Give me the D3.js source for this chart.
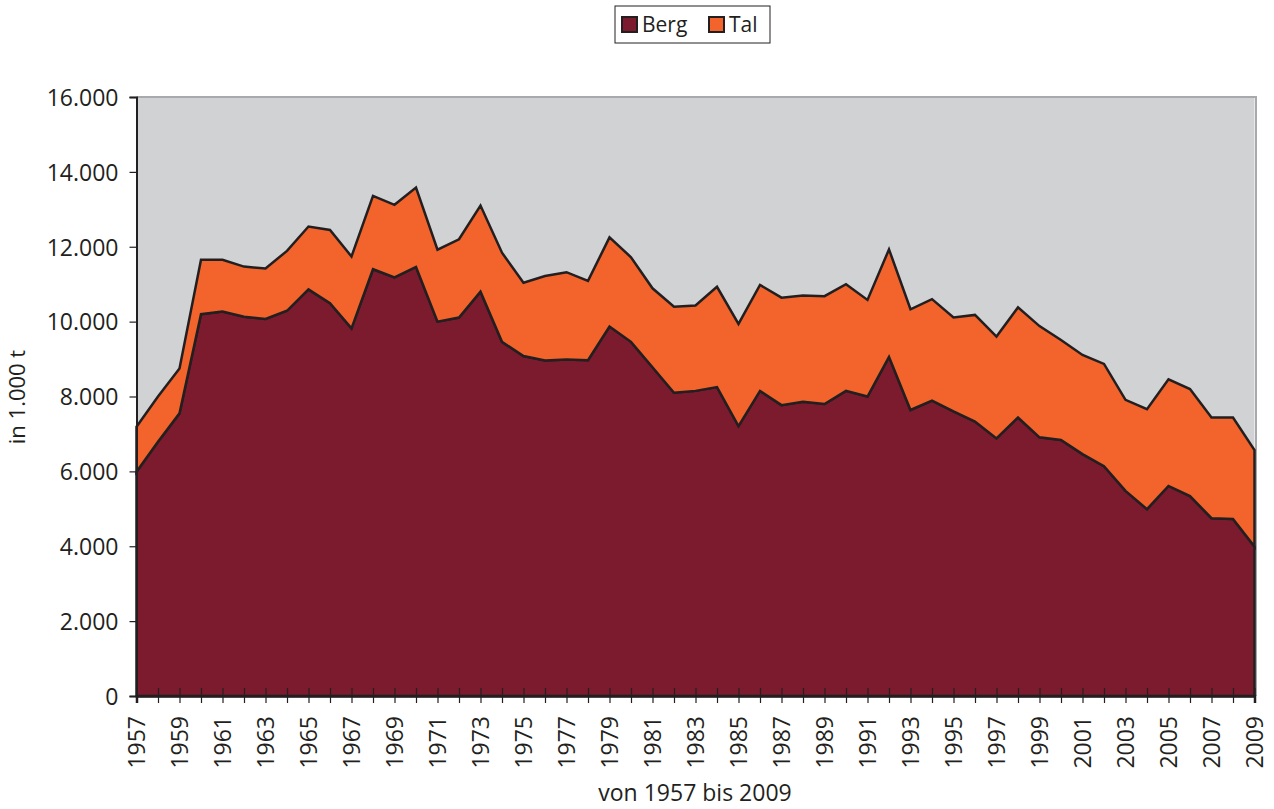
<!DOCTYPE html>
<html>
<head>
<meta charset="utf-8">
<script src="https://cdn.jsdelivr.net/npm/d3@7"></script>
<style>
  body { margin: 0; background: #fff; }
  svg text { font-family: "Open Sans", sans-serif; fill: #231f20; }
</style>
</head>
<body>
<div id="chart"></div>
<script>
// years on the x axis
const years = d3.range(1957, 2010);

// Berg (bottom layer), in 1.000 t
const berg = [
  5990, 6790, 7550, 10200, 10270, 10130, 10070, 10290, 10860, 10490,
  9820, 11400, 11180, 11460, 10000, 10110, 10800, 9460, 9080, 8960,
  8990, 8970, 9870, 9460, 8780, 8100, 8150, 8250, 7210, 8150,
  7770, 7860, 7800, 8150, 8000, 9060, 7640, 7890, 7600, 7330,
  6880, 7440, 6910, 6840, 6460, 6140, 5480, 4990, 5610, 5340,
  4750, 4730, 3990
];

// Tal (stacked on top of Berg), in 1.000 t
const tal = [
  1200, 1210, 1200, 1450, 1380, 1340, 1350, 1600, 1680, 1960,
  1920, 1960, 1940, 2120, 1920, 2090, 2300, 2380, 1960, 2260,
  2330, 2120, 2380, 2260, 2110, 2300, 2280, 2680, 2730, 2830,
  2870, 2840, 2880, 2850, 2580, 2870, 2690, 2710, 2510, 2850,
  2720, 2940, 2970, 2670, 2650, 2730, 2430, 2670, 2850, 2860,
  2690, 2710, 2580
];

const seriesNames = ["Berg", "Tal"];
const colors = ["#7c1a2e", "#f2642b"];
const yTicks = [0, 2000, 4000, 6000, 8000, 10000, 12000, 14000, 16000];

const W = 1274, H = 809;
const margin = {top: 97, right: 20, bottom: 113, left: 136.5};
const width = 1254.5 - margin.left,
  height = 696 - margin.top;

const table = years.map((y, i) => ({year: y, Berg: berg[i], Tal: tal[i]}));
const stacked = d3.stack().keys(seriesNames)(table);

const svg = d3.select("#chart").append("svg")
  .attr("width", W)
  .attr("height", H);

const g = svg.append("g")
  .attr("transform", `translate(${margin.left},${margin.top})`);

const x = d3.scaleLinear().domain([1957, 2009]).range([0, width]);
const y = d3.scaleLinear().domain([0, 16000]).range([height, 0]);

// plot background
g.append("rect")
  .attr("width", width)
  .attr("height", height)
  .attr("fill", "#d1d2d4");

// gray frame on top and right
g.append("path")
  .attr("d", `M0,0H${width + 1.5}V${height}`)
  .attr("fill", "none")
  .attr("stroke", "#a7a9ac")
  .attr("stroke-width", 2);

const area = d3.area()
  .x(d => x(d.data.year))
  .y0(d => y(d[0]))
  .y1(d => y(d[1]));

g.selectAll(".layer")
  .data(stacked)
  .enter()
  .append("path")
  .attr("class", "layer")
  .attr("d", area)
  .attr("fill", (d, i) => colors[i])
  .attr("stroke", "#231f20")
  .attr("stroke-width", 2.5)
  .attr("stroke-linejoin", "miter");

// y axis
const yAxis = d3.axisLeft(y)
  .tickValues(yTicks)
  .tickSize(7)
  .tickPadding(11)
  .tickFormat(d => d === 0 ? "0" : d3.format(",")(d).replace(/,/g, "."));

const yG = g.append("g").call(yAxis);
yG.select(".domain").attr("stroke", "#231f20").attr("stroke-width", 2);
yG.selectAll(".tick line").attr("stroke", "#231f20").attr("stroke-width", 1.2);
yG.selectAll(".tick text").style("font-size", "23px").attr("dy", "0.36em");

// x axis
const xAxis = d3.axisBottom(x)
  .tickValues(years)
  .tickSize(7)
  .tickFormat(d => (d - 1957) % 2 === 0 ? String(d) : "");

const xG = g.append("g")
  .attr("transform", `translate(0,${height})`)
  .call(xAxis);
xG.select(".domain").attr("stroke", "#231f20").attr("stroke-width", 2.5);
xG.selectAll(".tick line")
  .attr("y1", -8)
  .attr("y2", 7)
  .attr("stroke", "#231f20")
  .attr("stroke-width", 1.2);
xG.selectAll(".tick text")
  .style("font-size", "23px")
  .attr("text-anchor", "end")
  .attr("transform", "rotate(-90)")
  .attr("x", -20)
  .attr("y", 0)
  .attr("dy", "0.36em");

// axis titles
svg.append("text")
  .attr("x", 695)
  .attr("y", 801)
  .attr("text-anchor", "middle")
  .style("font-size", "23px")
  .text("von 1957 bis 2009");

svg.append("text")
  .attr("transform", "translate(25,397) rotate(-90)")
  .attr("text-anchor", "middle")
  .style("font-size", "22px")
  .text("in 1.000 t");

// legend
const legend = svg.append("g").attr("transform", "translate(615,6)");
legend.append("rect")
  .attr("width", 155)
  .attr("height", 37)
  .attr("fill", "#fff")
  .attr("stroke", "#231f20")
  .attr("stroke-width", 1);

const item = legend.selectAll(".item")
  .data(seriesNames)
  .enter()
  .append("g")
  .attr("class", "item")
  .attr("transform", (d, i) => `translate(${7 + i * 87},11)`);
item.append("rect")
  .attr("width", 15)
  .attr("height", 15)
  .attr("fill", (d, i) => colors[i])
  .attr("stroke", "#231f20")
  .attr("stroke-width", 2);
item.append("text")
  .attr("x", 20)
  .attr("y", 15)
  .style("font-size", "21px")
  .text(d => d);
</script>
</body>
</html>
